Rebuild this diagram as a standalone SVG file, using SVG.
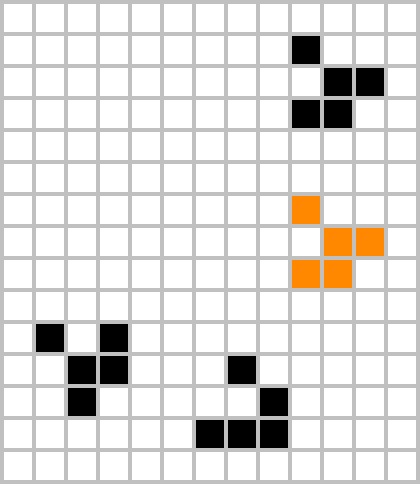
<svg xmlns="http://www.w3.org/2000/svg" width="420" height="484" viewBox="0 0 420 484">
<defs>
<pattern id="grid" x="0" y="0" width="32" height="32" patternUnits="userSpaceOnUse">
<rect x="0" y="0" width="32" height="32" fill="#c0c0c0"/>
<rect x="4" y="4" width="28" height="28" fill="#ffffff"/>
</pattern>
<style>.b{fill:#000000}.o{fill:#ff8800}</style>
</defs>
<rect x="0" y="0" width="420" height="484" fill="url(#grid)"/>
<g id="cells-top">
<rect class="b" x="292" y="36" width="28" height="28"/>
<rect class="b" x="324" y="68" width="28" height="28"/>
<rect class="b" x="356" y="68" width="28" height="28"/>
<rect class="b" x="292" y="100" width="28" height="28"/>
<rect class="b" x="324" y="100" width="28" height="28"/>
</g>
<g id="cells-orange">
<rect class="o" x="292" y="196" width="28" height="28"/>
<rect class="o" x="324" y="228" width="28" height="28"/>
<rect class="o" x="356" y="228" width="28" height="28"/>
<rect class="o" x="292" y="260" width="28" height="28"/>
<rect class="o" x="324" y="260" width="28" height="28"/>
</g>
<g id="cells-left">
<rect class="b" x="36" y="324" width="28" height="28"/>
<rect class="b" x="100" y="324" width="28" height="28"/>
<rect class="b" x="68" y="356" width="28" height="28"/>
<rect class="b" x="100" y="356" width="28" height="28"/>
<rect class="b" x="68" y="388" width="28" height="28"/>
</g>
<g id="cells-bottom">
<rect class="b" x="228" y="356" width="28" height="28"/>
<rect class="b" x="260" y="388" width="28" height="28"/>
<rect class="b" x="196" y="420" width="28" height="28"/>
<rect class="b" x="228" y="420" width="28" height="28"/>
<rect class="b" x="260" y="420" width="28" height="28"/>
</g>
</svg>
